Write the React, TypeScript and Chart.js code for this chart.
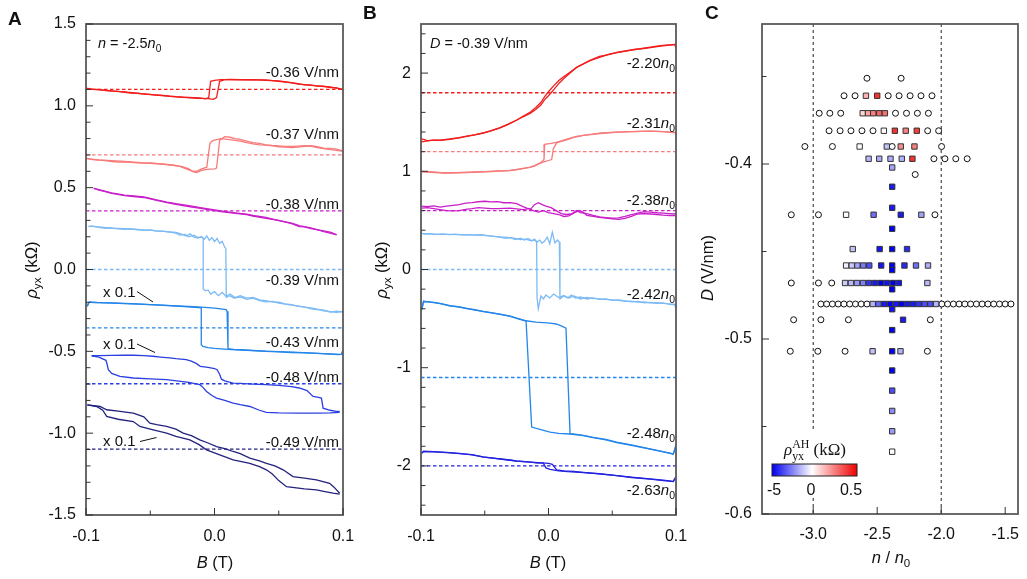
import { useEffect, useRef } from "react";
import { Chart, registerables } from "chart.js";
Chart.register(...registerables);

type P = [number, number];
type Seg = { t: string; it?: boolean; sub?: boolean; sup?: boolean; stack?: boolean; serif?: boolean; bold?: boolean };

const SANS = '"Liberation Sans", Arial, Helvetica, sans-serif';
const SERIF = '"Liberation Serif", "Times New Roman", serif';

const RED = "#f21d1d";
const LRED = "#f77b7b";
const MAG = "#c91fc9";
const LBLUE = "#7dbbf5";
const MBLUE = "#2486ea";
const BLUE = "#2b3fe0";
const BLUE2 = "#2323e0";
const NAVY = "#23237f";

// ---------------- Panel A : n = -2.5 n0 ----------------
const aXTicks = [-0.1, 0, 0.1];
const aYTicks = [-1.5, -1, -0.5, 0, 0.5, 1, 1.5];
const aLabels = ["-0.36 V/nm", "-0.37 V/nm", "-0.38 V/nm", "-0.39 V/nm", "-0.43 V/nm", "-0.48 V/nm", "-0.49 V/nm"];
const aBaselines = [1.1, 0.7, 0.358, 0.0, -0.357, -0.698, -1.098];
const aColors = [RED, LRED, MAG, LBLUE, MBLUE, BLUE, NAVY];

const A036Up: P[] = [[-0.1,1.108],[-0.095,1.102],[-0.09,1.1],[-0.085,1.095],[-0.08,1.092],[-0.075,1.088],[-0.07,1.083],[-0.065,1.078],[-0.06,1.076],[-0.055,1.073],[-0.05,1.07],[-0.045,1.066],[-0.04,1.062],[-0.035,1.058],[-0.03,1.055],[-0.025,1.052],[-0.02,1.05],[-0.015,1.048],[-0.01,1.046],[-0.005,1.044],[-0.001,1.04],[0.0016,1.05],[0.004,1.15],[0.008,1.16],[0.012,1.162],[0.02,1.16],[0.03,1.158],[0.04,1.158],[0.05,1.15],[0.06,1.14],[0.065,1.133],[0.07,1.13],[0.075,1.125],[0.08,1.122],[0.085,1.118],[0.09,1.115],[0.095,1.108],[0.1,1.1]];
const A036Dn: P[] = [[0.1,1.098],[0.095,1.11],[0.09,1.112],[0.085,1.12],[0.08,1.12],[0.075,1.128],[0.07,1.128],[0.065,1.136],[0.06,1.142],[0.05,1.152],[0.04,1.156],[0.03,1.16],[0.02,1.158],[0.012,1.16],[0.005,1.16],[0.0,1.155],[-0.003,1.15],[-0.0045,1.05],[-0.007,1.043],[-0.012,1.048],[-0.02,1.051],[-0.03,1.056],[-0.04,1.063],[-0.05,1.068],[-0.06,1.077],[-0.07,1.085],[-0.08,1.09],[-0.09,1.098],[-0.1,1.104]];
const A037Up: P[] = [[-0.1,0.68],[-0.095,0.672],[-0.09,0.668],[-0.085,0.665],[-0.08,0.66],[-0.075,0.656],[-0.07,0.658],[-0.065,0.655],[-0.06,0.652],[-0.055,0.65],[-0.05,0.652],[-0.045,0.648],[-0.04,0.645],[-0.035,0.64],[-0.03,0.635],[-0.025,0.628],[-0.02,0.615],[-0.017,0.598],[-0.014,0.592],[-0.01,0.605],[-0.006,0.612],[0.0,0.615],[0.0016,0.62],[0.004,0.79],[0.008,0.812],[0.012,0.808],[0.016,0.8],[0.02,0.795],[0.025,0.785],[0.03,0.775],[0.035,0.77],[0.04,0.762],[0.045,0.758],[0.05,0.755],[0.055,0.752],[0.06,0.752],[0.065,0.754],[0.07,0.756],[0.075,0.754],[0.08,0.745],[0.085,0.738],[0.09,0.732],[0.095,0.728],[0.1,0.722]];
const A037Dn: P[] = [[0.1,0.725],[0.095,0.735],[0.09,0.74],[0.085,0.742],[0.08,0.75],[0.075,0.756],[0.07,0.752],[0.065,0.748],[0.06,0.745],[0.055,0.748],[0.05,0.75],[0.045,0.755],[0.04,0.76],[0.035,0.762],[0.03,0.768],[0.025,0.775],[0.02,0.785],[0.015,0.79],[0.01,0.795],[0.005,0.8],[0.0,0.79],[-0.002,0.785],[-0.0036,0.77],[-0.006,0.625],[-0.01,0.615],[-0.014,0.6],[-0.018,0.603],[-0.022,0.615],[-0.027,0.63],[-0.032,0.637],[-0.04,0.642],[-0.05,0.648],[-0.06,0.655],[-0.07,0.66],[-0.08,0.665],[-0.09,0.67],[-0.1,0.678]];
const A038Up: P[] = [[-0.094,0.497],[-0.09,0.485],[-0.085,0.476],[-0.08,0.465],[-0.07,0.452],[-0.063,0.446],[-0.055,0.44],[-0.05,0.432],[-0.045,0.422],[-0.037,0.408],[-0.03,0.398],[-0.02,0.385],[-0.011,0.374],[0.0,0.36],[0.005,0.354],[0.0145,0.344],[0.025,0.335],[0.03,0.326],[0.04,0.313],[0.05,0.3],[0.06,0.28],[0.066,0.262],[0.07,0.26],[0.075,0.25],[0.08,0.244],[0.085,0.232],[0.09,0.222],[0.095,0.211]];
const A038Dn: P[] = [[0.095,0.213],[0.09,0.228],[0.085,0.236],[0.08,0.242],[0.075,0.255],[0.07,0.262],[0.066,0.268],[0.06,0.284],[0.05,0.298],[0.04,0.318],[0.03,0.33],[0.025,0.338],[0.0145,0.348],[0.005,0.358],[0.0,0.364],[-0.011,0.378],[-0.02,0.39],[-0.03,0.402],[-0.037,0.412],[-0.045,0.426],[-0.05,0.435],[-0.055,0.444],[-0.063,0.45],[-0.07,0.455],[-0.08,0.468],[-0.09,0.488],[-0.094,0.495]];
const A039Up: P[] = [[-0.098,0.262],[-0.095,0.265],[-0.09,0.258],[-0.085,0.252],[-0.08,0.254],[-0.075,0.248],[-0.07,0.246],[-0.065,0.249],[-0.06,0.243],[-0.055,0.24],[-0.05,0.242],[-0.045,0.236],[-0.04,0.233],[-0.035,0.23],[-0.03,0.226],[-0.025,0.215],[-0.022,0.205],[-0.019,0.218],[-0.016,0.198],[-0.013,0.192],[-0.01,0.2],[-0.008,0.185],[-0.006,0.205],[-0.004,0.178],[-0.002,0.195],[0.0,0.17],[0.002,0.19],[0.004,0.16],[0.006,0.172],[0.008,0.135],[0.0088,0.13],[0.0092,-0.17],[0.012,-0.16],[0.015,-0.175],[0.02,-0.168],[0.025,-0.182],[0.03,-0.175],[0.035,-0.19],[0.04,-0.198],[0.045,-0.195],[0.05,-0.205],[0.055,-0.212],[0.06,-0.218],[0.065,-0.222],[0.07,-0.23],[0.075,-0.235],[0.08,-0.242],[0.085,-0.252],[0.09,-0.258],[0.095,-0.262],[0.1,-0.255]];
const A039Dn: P[] = [[0.1,-0.26],[0.095,-0.255],[0.09,-0.26],[0.085,-0.248],[0.08,-0.245],[0.075,-0.24],[0.07,-0.228],[0.065,-0.225],[0.06,-0.215],[0.055,-0.21],[0.05,-0.2],[0.045,-0.198],[0.04,-0.19],[0.035,-0.185],[0.03,-0.17],[0.025,-0.175],[0.02,-0.16],[0.016,-0.172],[0.012,-0.15],[0.009,-0.165],[0.006,-0.14],[0.003,-0.16],[0.0,-0.135],[-0.003,-0.15],[-0.005,-0.125],[-0.007,-0.13],[-0.0085,-0.12],[-0.0088,0.19],[-0.01,0.2],[-0.013,0.195],[-0.016,0.21],[-0.02,0.2],[-0.023,0.215],[-0.027,0.21],[-0.03,0.222],[-0.035,0.228],[-0.04,0.234],[-0.045,0.235],[-0.05,0.24],[-0.055,0.242],[-0.06,0.245],[-0.065,0.247],[-0.07,0.25],[-0.08,0.252],[-0.09,0.26],[-0.098,0.265]];
const A043Up: P[] = [[-0.099,-0.225],[-0.098,-0.205],[-0.097,-0.2],[-0.09,-0.202],[-0.08,-0.204],[-0.07,-0.207],[-0.06,-0.21],[-0.05,-0.214],[-0.04,-0.218],[-0.03,-0.222],[-0.02,-0.226],[-0.01,-0.23],[0.0,-0.236],[0.005,-0.24],[0.009,-0.245],[0.0098,-0.255],[0.0105,-0.484],[0.015,-0.488],[0.02,-0.49],[0.03,-0.495],[0.04,-0.5],[0.05,-0.503],[0.06,-0.507],[0.07,-0.51],[0.08,-0.513],[0.09,-0.517],[0.096,-0.52],[0.099,-0.518],[0.1,-0.49]];
const A043Dn: P[] = [[0.1,-0.49],[0.099,-0.518],[0.09,-0.515],[0.08,-0.512],[0.07,-0.508],[0.06,-0.505],[0.05,-0.502],[0.04,-0.499],[0.03,-0.496],[0.02,-0.492],[0.01,-0.488],[0.0,-0.482],[-0.005,-0.478],[-0.009,-0.47],[-0.0101,-0.46],[-0.0103,-0.235],[-0.015,-0.232],[-0.02,-0.228],[-0.03,-0.223],[-0.04,-0.219],[-0.05,-0.215],[-0.06,-0.211],[-0.07,-0.208],[-0.08,-0.205],[-0.09,-0.203],[-0.097,-0.2],[-0.098,-0.205],[-0.099,-0.225]];
const A048Up: P[] = [[-0.0956,-0.527],[-0.09,-0.526],[-0.08,-0.525],[-0.07,-0.524],[-0.063,-0.524],[-0.055,-0.526],[-0.048,-0.53],[-0.042,-0.535],[-0.035,-0.54],[-0.03,-0.545],[-0.022,-0.551],[-0.018,-0.56],[-0.014,-0.575],[-0.011,-0.592],[-0.005,-0.598],[0.0,-0.605],[0.002,-0.612],[0.004,-0.64],[0.0054,-0.67],[0.008,-0.68],[0.0145,-0.694],[0.02,-0.696],[0.03,-0.7],[0.04,-0.704],[0.05,-0.708],[0.06,-0.715],[0.066,-0.724],[0.072,-0.74],[0.0767,-0.776],[0.08,-0.78],[0.0832,-0.786],[0.0845,-0.847],[0.09,-0.86],[0.0948,-0.867],[0.0974,-0.867]];
const A048Dn: P[] = [[0.0974,-0.873],[0.09,-0.876],[0.08,-0.878],[0.066,-0.878],[0.05,-0.876],[0.0404,-0.873],[0.035,-0.86],[0.0275,-0.837],[0.02,-0.826],[0.0145,-0.816],[0.008,-0.8],[0.0016,-0.786],[-0.002,-0.77],[-0.0062,-0.745],[-0.009,-0.72],[-0.0114,-0.704],[-0.02,-0.69],[-0.0373,-0.673],[-0.05,-0.668],[-0.0632,-0.663],[-0.0736,-0.653],[-0.08,-0.635],[-0.0826,-0.612],[-0.0839,-0.57],[-0.0845,-0.555],[-0.09,-0.535],[-0.0956,-0.527]];
const A049Up: P[] = [[-0.099,-0.827],[-0.0891,-0.837],[-0.0839,-0.857],[-0.075,-0.865],[-0.0632,-0.878],[-0.055,-0.9],[-0.0503,-0.939],[-0.045,-0.948],[-0.0373,-0.959],[-0.03,-0.975],[-0.0244,-1.0],[-0.018,-1.015],[-0.0114,-1.041],[-0.005,-1.06],[0.0016,-1.082],[0.008,-1.095],[0.0145,-1.112],[0.02,-1.125],[0.0275,-1.153],[0.035,-1.17],[0.0404,-1.184],[0.047,-1.2],[0.0534,-1.224],[0.0611,-1.265],[0.07,-1.275],[0.0793,-1.286],[0.0896,-1.306],[0.093,-1.33],[0.0974,-1.367]];
const A049Dn: P[] = [[0.0974,-1.372],[0.0922,-1.367],[0.085,-1.355],[0.0793,-1.347],[0.07,-1.34],[0.056,-1.327],[0.05,-1.29],[0.045,-1.25],[0.0404,-1.224],[0.035,-1.205],[0.0275,-1.184],[0.0145,-1.163],[0.0041,-1.133],[-0.0062,-1.102],[-0.012,-1.07],[-0.0192,-1.041],[-0.03,-1.02],[-0.0373,-1.0],[-0.05,-0.975],[-0.058,-0.959],[-0.0632,-0.929],[-0.075,-0.915],[-0.0839,-0.898],[-0.087,-0.86],[-0.0917,-0.837],[-0.099,-0.827]];
const aTraces: P[][][] = [[A036Up, A036Dn], [A037Up, A037Dn], [A038Up, A038Dn], [A039Up, A039Dn], [A043Up, A043Dn], [A048Up, A048Dn], [A049Up, A049Dn]];

// ---------------- Panel B : D = -0.39 V/nm ----------------
const bXTicks = [-0.1, 0, 0.1];
const bYTicks = [-2, -1, 0, 1, 2];
const bLabels = ["-2.20", "-2.31", "-2.38", "-2.42", "-2.48", "-2.63"];
const bBaselines = [1.8, 1.2, 0.6, 0.0, -1.1, -2.0];
const bColors = [RED, LRED, MAG, LBLUE, MBLUE, BLUE2];

const B220Up: P[] = [[-0.0995,1.31],[-0.099,1.3],[-0.095,1.31],[-0.09,1.318],[-0.085,1.317],[-0.0773,1.33],[-0.07,1.342],[-0.0642,1.358],[-0.058,1.372],[-0.0511,1.392],[-0.045,1.415],[-0.038,1.444],[-0.032,1.478],[-0.025,1.522],[-0.02,1.56],[-0.0145,1.6],[-0.01,1.65],[-0.006,1.7],[-0.003,1.76],[0.0,1.81],[0.004,1.87],[0.0085,1.93],[0.0116,1.96],[0.016,2.0],[0.0221,2.058],[0.0325,2.126],[0.04,2.16],[0.0482,2.195],[0.055,2.21],[0.0613,2.229],[0.068,2.24],[0.0744,2.253],[0.08,2.265],[0.0875,2.28],[0.094,2.288],[0.0992,2.29],[0.1,2.245]];
const B220Dn: P[] = [[0.1,2.295],[0.095,2.285],[0.088,2.275],[0.08,2.26],[0.0744,2.25],[0.068,2.245],[0.0613,2.225],[0.055,2.215],[0.0482,2.19],[0.04,2.17],[0.0325,2.13],[0.0221,2.06],[0.016,1.99],[0.0116,1.94],[0.0085,1.9],[0.004,1.83],[0.0,1.77],[-0.003,1.73],[-0.006,1.675],[-0.01,1.63],[-0.0145,1.59],[-0.02,1.555],[-0.025,1.52],[-0.032,1.475],[-0.038,1.442],[-0.045,1.412],[-0.0511,1.39],[-0.058,1.37],[-0.0642,1.355],[-0.07,1.34],[-0.0773,1.325],[-0.085,1.315],[-0.09,1.317],[-0.095,1.312],[-0.0995,1.33],[-0.1,1.345]];
const B231Up: P[] = [[-0.0995,1.0],[-0.09,0.995],[-0.0825,0.985],[-0.075,0.985],[-0.0642,0.99],[-0.055,0.995],[-0.045,1.0],[-0.038,1.005],[-0.03,1.01],[-0.025,1.017],[-0.02,1.03],[-0.0145,1.04],[-0.0106,1.055],[-0.0067,1.08],[-0.003,1.098],[0.0,1.11],[0.0025,1.12],[0.0038,1.23],[0.0064,1.29],[0.01,1.305],[0.0142,1.32],[0.02,1.345],[0.0273,1.365],[0.035,1.375],[0.0404,1.385],[0.05,1.395],[0.0535,1.399],[0.065,1.405],[0.0796,1.41],[0.09,1.405],[0.1,1.392]];
const B231Dn: P[] = [[0.1,1.395],[0.09,1.405],[0.08,1.41],[0.065,1.405],[0.05,1.397],[0.04,1.388],[0.03,1.372],[0.0221,1.355],[0.015,1.33],[0.01,1.31],[0.006,1.295],[0.002,1.285],[-0.003,1.275],[-0.0035,1.12],[-0.006,1.09],[-0.0106,1.06],[-0.0145,1.042],[-0.02,1.028],[-0.03,1.008],[-0.045,0.998],[-0.0642,0.988],[-0.0825,0.982],[-0.0995,0.995]];
const B238a: P[] = [[-0.0995,0.645],[-0.095,0.64],[-0.09,0.648],[-0.085,0.635],[-0.08,0.645],[-0.075,0.652],[-0.07,0.66],[-0.065,0.675],[-0.06,0.68],[-0.055,0.69],[-0.05,0.695],[-0.045,0.688],[-0.04,0.692],[-0.035,0.68],[-0.03,0.682],[-0.025,0.67],[-0.02,0.64],[-0.017,0.625],[-0.014,0.615],[-0.011,0.66],[-0.008,0.68],[-0.005,0.66],[-0.002,0.645],[0.002,0.63],[0.006,0.6],[0.01,0.57],[0.014,0.56],[0.018,0.565],[0.022,0.6],[0.025,0.58],[0.03,0.57],[0.035,0.55],[0.04,0.535],[0.045,0.528],[0.05,0.522],[0.055,0.525],[0.06,0.54],[0.065,0.56],[0.07,0.575],[0.075,0.59],[0.08,0.585],[0.085,0.578],[0.09,0.575],[0.095,0.57],[0.1,0.565]];
const B238b: P[] = [[-0.0995,0.625],[-0.095,0.63],[-0.09,0.62],[-0.085,0.61],[-0.08,0.6],[-0.075,0.598],[-0.07,0.6],[-0.065,0.612],[-0.06,0.62],[-0.055,0.63],[-0.05,0.625],[-0.045,0.62],[-0.04,0.62],[-0.035,0.622],[-0.03,0.625],[-0.025,0.618],[-0.02,0.61],[-0.015,0.62],[-0.012,0.6],[-0.008,0.585],[-0.004,0.6],[0.0,0.58],[0.004,0.57],[0.008,0.56],[0.012,0.54],[0.016,0.545],[0.02,0.575],[0.024,0.6],[0.027,0.585],[0.03,0.55],[0.035,0.54],[0.04,0.53],[0.05,0.515],[0.055,0.51],[0.06,0.52],[0.065,0.54],[0.07,0.565],[0.075,0.57],[0.08,0.565],[0.085,0.56],[0.09,0.553],[0.095,0.55],[0.1,0.548]];
const B242Up: P[] = [[-0.0995,0.37],[-0.097,0.36],[-0.093,0.365],[-0.088,0.358],[-0.083,0.362],[-0.078,0.355],[-0.073,0.36],[-0.068,0.352],[-0.063,0.356],[-0.058,0.35],[-0.053,0.354],[-0.048,0.345],[-0.043,0.338],[-0.038,0.33],[-0.034,0.318],[-0.03,0.325],[-0.026,0.305],[-0.022,0.318],[-0.019,0.3],[-0.016,0.315],[-0.013,0.29],[-0.011,0.31],[-0.009,0.28],[-0.007,0.3],[-0.005,0.27],[-0.003,0.29],[-0.001,0.33],[0.001,0.26],[0.003,0.38],[0.005,0.27],[0.007,0.3],[0.0085,0.28],[0.009,-0.3],[0.012,-0.27],[0.015,-0.29],[0.018,-0.26],[0.021,-0.29],[0.025,-0.28],[0.03,-0.3],[0.035,-0.29],[0.04,-0.305],[0.045,-0.3],[0.05,-0.315],[0.055,-0.31],[0.06,-0.32],[0.065,-0.33],[0.07,-0.325],[0.075,-0.34],[0.08,-0.335],[0.085,-0.345],[0.09,-0.34],[0.095,-0.355],[0.1,-0.36]];
const B242Dn: P[] = [[0.1,-0.4],[0.099,-0.355],[0.095,-0.35],[0.09,-0.345],[0.085,-0.338],[0.08,-0.34],[0.075,-0.33],[0.07,-0.332],[0.065,-0.322],[0.06,-0.325],[0.055,-0.315],[0.05,-0.31],[0.045,-0.305],[0.04,-0.3],[0.035,-0.295],[0.03,-0.285],[0.025,-0.3],[0.02,-0.27],[0.016,-0.29],[0.012,-0.265],[0.008,-0.285],[0.004,-0.25],[0.001,-0.29],[-0.002,-0.26],[-0.004,-0.3],[-0.006,-0.27],[-0.008,-0.4],[-0.009,-0.28],[-0.0093,0.28],[-0.011,0.3],[-0.014,0.295],[-0.018,0.31],[-0.022,0.305],[-0.027,0.32],[-0.032,0.328],[-0.038,0.332],[-0.045,0.34],[-0.052,0.35],[-0.06,0.352],[-0.07,0.356],[-0.08,0.358],[-0.09,0.36],[-0.0995,0.365]];
const B248Up: P[] = [[-0.0995,-0.41],[-0.098,-0.324],[-0.095,-0.328],[-0.09,-0.335],[-0.085,-0.345],[-0.0773,-0.369],[-0.07,-0.38],[-0.0642,-0.395],[-0.058,-0.41],[-0.0511,-0.427],[-0.045,-0.44],[-0.038,-0.455],[-0.03,-0.475],[-0.025,-0.495],[-0.0176,-0.522],[-0.01,-0.535],[-0.0041,-0.54],[0.0012,-0.546],[0.006,-0.555],[0.01,-0.575],[0.0137,-0.597],[0.0169,-1.672],[0.0221,-1.68],[0.0273,-1.689],[0.035,-1.71],[0.045,-1.73],[0.0535,-1.758],[0.065,-1.785],[0.0796,-1.826],[0.09,-1.855],[0.0979,-1.877],[0.1,-1.79]];
const B248Dn: P[] = [[0.1,-1.79],[0.0979,-1.88],[0.09,-1.858],[0.0796,-1.83],[0.065,-1.79],[0.0535,-1.762],[0.045,-1.735],[0.035,-1.712],[0.0273,-1.692],[0.0169,-1.675],[0.008,-1.668],[0.0012,-1.655],[-0.006,-1.63],[-0.0132,-1.604],[-0.0176,-0.525],[-0.025,-0.497],[-0.03,-0.478],[-0.038,-0.457],[-0.045,-0.442],[-0.0511,-0.43],[-0.058,-0.412],[-0.0642,-0.398],[-0.07,-0.382],[-0.0773,-0.37],[-0.085,-0.347],[-0.09,-0.337],[-0.095,-0.33],[-0.098,-0.326],[-0.0995,-0.41]];
const B263Up: P[] = [[-0.0995,-1.87],[-0.098,-1.855],[-0.09,-1.858],[-0.08,-1.865],[-0.0773,-1.868],[-0.07,-1.875],[-0.06,-1.885],[-0.0511,-1.911],[-0.04,-1.925],[-0.03,-1.94],[-0.025,-1.952],[-0.015,-1.96],[-0.0093,-1.969],[-0.005,-1.97],[0.0,-1.975],[0.003,-1.985],[0.0064,-2.04],[0.012,-2.05],[0.02,-2.055],[0.0273,-2.065],[0.04,-2.08],[0.0535,-2.099],[0.065,-2.115],[0.0796,-2.133],[0.09,-2.145],[0.0979,-2.157],[0.1,-2.11]];
const B263Dn: P[] = [[0.1,-2.11],[0.0979,-2.16],[0.09,-2.15],[0.0796,-2.135],[0.065,-2.118],[0.0535,-2.1],[0.04,-2.082],[0.0273,-2.068],[0.015,-2.058],[0.008,-2.05],[0.0012,-2.035],[-0.002,-2.02],[-0.0041,-1.972],[-0.008,-1.968],[-0.015,-1.962],[-0.025,-1.95],[-0.035,-1.935],[-0.0511,-1.908],[-0.06,-1.888],[-0.07,-1.872],[-0.08,-1.862],[-0.09,-1.855],[-0.098,-1.85],[-0.0995,-1.87]];
const bTraces: P[][][] = [[B220Up, B220Dn], [B231Up, B231Dn], [B238a, B238b], [B242Up, B242Dn], [B248Up, B248Dn], [B263Up, B263Dn]];

// ---------------- Panel C : phase diagram ----------------
const cXTicks = [-3.0, -2.5, -2.0, -1.5];
const cYTicks = [-0.6, -0.5, -0.4];
const cBoundaries = [-3.0, -2.0];
const cCircN = [-2.58,-2.313, -2.759,-2.673,-2.414,-2.329,-2.243,-2.158,-2.072, -2.953,-2.87,-2.785,-2.357,-2.271,-2.186,-2.1, -2.876,-2.79,-2.705,-2.619,-2.533,-2.106,-2.02, -3.065,-2.85,-2.383,-1.997, -2.057,-1.971,-1.886,-1.797, -2.203, -3.171,-2.959,-2.049, -3.171,-2.959,-2.855, -2.94,-2.895,-2.85,-2.805,-2.76,-2.715,-2.67,-2.625,-2.58, -1.995,-1.95,-1.905,-1.86,-1.815,-1.77,-1.725,-1.68,-1.635,-1.59,-1.545,-1.5,-1.455, -3.153,-2.94,-2.725,-2.085, -3.179,-2.964,-2.751,-2.108];
const cCircD = [-0.351,-0.351, -0.361,-0.361,-0.361,-0.361,-0.361,-0.361,-0.361, -0.371,-0.371,-0.371,-0.371,-0.371,-0.371,-0.371, -0.381,-0.381,-0.381,-0.381,-0.381,-0.381,-0.381, -0.39,-0.39,-0.39,-0.39, -0.397,-0.397,-0.397,-0.397, -0.406, -0.429,-0.429,-0.429, -0.468,-0.468,-0.468, -0.48,-0.48,-0.48,-0.48,-0.48,-0.48,-0.48,-0.48,-0.48, -0.48,-0.48,-0.48,-0.48,-0.48,-0.48,-0.48,-0.48,-0.48,-0.48,-0.48,-0.48,-0.48, -0.489,-0.489,-0.489,-0.489, -0.507,-0.507,-0.507,-0.507];
const cSqN = [-2.588,-2.5, -2.613,-2.572,-2.531,-2.484,-2.44, -2.448,-2.362,-2.277,-2.191, -2.637,-2.425,-2.316,-2.209, -2.567,-2.484,-2.396,-2.308,-2.225, -2.383,-2.383,-2.383, -2.743,-2.528,-2.316,-2.155, -2.383, -2.691,-2.481,-2.383,-2.267, -2.743,-2.699,-2.655,-2.609,-2.562,-2.469,-2.383,-2.287,-2.197,-2.103, -2.383, -2.751,-2.705,-2.658,-2.611,-2.565,-2.518,-2.471,-2.425,-2.378,-2.331,-2.108, -2.383, -2.535,-2.49,-2.445,-2.4,-2.355,-2.31,-2.265,-2.22,-2.175,-2.13,-2.085,-2.04, -2.383, -2.298, -2.383, -2.536,-2.383,-2.318, -2.383,-2.383,-2.383,-2.383,-2.383];
const cSqD = [-0.361,-0.361, -0.371,-0.371,-0.371,-0.371,-0.371, -0.381,-0.381,-0.381,-0.381, -0.39,-0.39,-0.39,-0.39, -0.397,-0.397,-0.397,-0.397,-0.397, -0.402,-0.413,-0.425, -0.429,-0.429,-0.429,-0.429, -0.437, -0.4486,-0.4486,-0.4486,-0.4486, -0.458,-0.458,-0.458,-0.458,-0.458,-0.458,-0.458,-0.458,-0.458,-0.458, -0.4606, -0.468,-0.468,-0.468,-0.468,-0.468,-0.468,-0.468,-0.468,-0.468,-0.468,-0.468, -0.4716, -0.48,-0.48,-0.48,-0.48,-0.48,-0.48,-0.48,-0.48,-0.48,-0.48,-0.48,-0.48, -0.483, -0.489, -0.4949, -0.507,-0.507,-0.507, -0.518,-0.5295,-0.5411,-0.5527,-0.5644];
const cSqV = [0.15,0.4, 0.08,0.18,0.25,0.3,0.28, 0.0,0.4,0.25,0.38, 0.0,-1.2,0.22,0.25, -1.4,-1.6,-1.6,-1.5,0.4, -1.8,-4.5,-4.5, 0.0,-2.8,-4.5,-1.8, -5, -1.2,-4.6,-5,-4.2, -0.3,-1.0,-1.8,-2.6,-3.5,-4.6,-5,-4.2,-2.8,-1.6, -5, -1.0,-1.4,-2.0,-2.5,-4.0,-4.5,-5,-4.6,-5,-4.6,-1.4, -5, -1.5,-3,-4.5,-5,-4.5,-5,-4.5,-4.5,-4,-3.5,-3.5,-1.5, -4.6, -4.5, -5, -1.2,-5,-1.5, -5,-3.5,-2.3,-2.0,0.0];
const cBarTicks = ["-5", "0", "0.5"];

// ---------------- helpers ----------------
function cmap(v: number): string {
  if (v < 0) {
    const t = Math.min(1, -v / 5);
    return `rgb(${Math.round(255 * (1 - t))},${Math.round(255 * (1 - t))},${Math.round(255 - 15 * t)})`;
  }
  const t = Math.min(1, v / 0.5);
  return `rgb(${Math.round(255 - 15 * t)},${Math.round(255 * (1 - t))},${Math.round(255 * (1 - t))})`;
}

function segFont(s: Seg, size: number) {
  const sz = s.sub || s.sup ? size * 0.7 : size;
  return `${s.it ? "italic " : ""}${s.bold ? "bold " : ""}${sz}px ${s.serif ? SERIF : SANS}`;
}

function drawRich(ctx: CanvasRenderingContext2D, segs: Seg[], x: number, y: number, size: number, align: "left" | "right" | "center", rot = 0, color = "#111") {
  ctx.save();
  ctx.translate(x, y);
  if (rot) ctx.rotate(rot);
  let cx = 0, prevStart = 0, prevEnd = 0;
  const items: { s: Seg; x: number; dy: number; font: string }[] = [];
  for (const s of segs) {
    ctx.font = segFont(s, size);
    const w = ctx.measureText(s.t).width;
    const sx = s.stack ? prevStart : cx;
    const dy = s.sub ? size * 0.27 : s.sup ? -size * 0.42 : 0;
    items.push({ s, x: sx, dy, font: ctx.font });
    if (s.stack) cx = Math.max(prevEnd, sx + w);
    else { prevStart = sx; prevEnd = sx + w; cx = sx + w; }
  }
  const x0 = align === "left" ? 0 : align === "right" ? -cx : -cx / 2;
  ctx.fillStyle = color;
  ctx.textBaseline = "alphabetic";
  ctx.textAlign = "left";
  for (const it of items) {
    ctx.font = it.font;
    ctx.fillText(it.s.t, x0 + it.x, it.dy);
  }
  ctx.restore();
}

function line(ctx: CanvasRenderingContext2D, x1: number, y1: number, x2: number, y2: number) {
  ctx.beginPath();
  ctx.moveTo(x1, y1);
  ctx.lineTo(x2, y2);
  ctx.stroke();
}

function frameAndTicks(chart: any, yMajor: number[], yMinor: number[], xMajor: number[], xMinor: number[]) {
  const { ctx, chartArea: a, scales } = chart;
  ctx.save();
  ctx.strokeStyle = "#5a5a5a";
  ctx.lineWidth = 1.8;
  ctx.strokeRect(a.left, a.top, a.right - a.left, a.bottom - a.top);
  ctx.lineWidth = 1;
  ctx.strokeStyle = "#333";
  for (const v of yMajor) { const y = scales.y.getPixelForValue(v); line(ctx, a.left, y, a.left + 7, y); }
  for (const v of yMinor) { const y = scales.y.getPixelForValue(v); line(ctx, a.left, y, a.left + 4.5, y); }
  for (const v of xMajor) { const x = scales.x.getPixelForValue(v); line(ctx, x, a.bottom, x, a.bottom - 7); }
  for (const v of xMinor) { const x = scales.x.getPixelForValue(v); line(ctx, x, a.bottom, x, a.bottom - 4.5); }
  ctx.restore();
}

function range(a: number, b: number, step: number, skip: number) {
  const out: number[] = [];
  for (let i = 0; a + i * step <= b + 1e-9; i++) {
    const v = +(a + i * step).toFixed(4);
    if (Math.abs(v / skip - Math.round(v / skip)) > 1e-6) out.push(v);
  }
  return out;
}

function traceDatasets(traces: P[][][], colors: string[], baselines: number[]) {
  const ds: any[] = [];
  traces.forEach((pair, i) => {
    pair.forEach((tr) => {
      ds.push({ data: tr.map(([x, y]) => ({ x, y })), borderColor: colors[i], borderWidth: 1.3, showLine: true, pointRadius: 0, tension: 0, fill: false });
    });
  });
  baselines.forEach((b, i) => {
    ds.push({ data: [{ x: -0.1, y: b }, { x: 0.1, y: b }], borderColor: colors[i], borderWidth: 1.3, borderDash: [3.5, 2.5], showLine: true, pointRadius: 0 });
  });
  return ds;
}

function axisOpts(min: number, max: number, ticksArr: number[], fmt: (v: number) => string, isY: boolean, size: number, pad: number) {
  return {
    type: "linear" as const,
    min,
    max,
    afterBuildTicks: (s: any) => { s.ticks = ticksArr.map((v) => ({ value: v })); },
    afterFit: (s: any) => {
      if (isY) { s.width = size; s.paddingTop = 0; s.paddingBottom = 0; }
      else { s.height = size; s.paddingLeft = 0; s.paddingRight = 0; }
    },
    grid: { display: false, drawTicks: false },
    border: { display: false },
    ticks: { callback: (v: any) => fmt(Number(v)), font: { size: 16, family: SANS }, color: "#111", padding: pad, maxRotation: 0, autoSkip: false },
  };
}

const baseOpts = {
  responsive: false,
  maintainAspectRatio: false,
  animation: false as const,
  events: [] as any[],
  plugins: { legend: { display: false }, tooltip: { enabled: false } },
};

function cfgA(): any {
  return {
    type: "scatter",
    data: { datasets: traceDatasets(aTraces, aColors, aBaselines) },
    options: {
      ...baseOpts,
      layout: { padding: { top: 24, right: 22, left: 0, bottom: 0 } },
      scales: {
        x: axisOpts(-0.1, 0.1, aXTicks, (v) => v.toFixed(1), false, 64, 12),
        y: axisOpts(-1.5, 1.5, aYTicks, (v) => v.toFixed(1), true, 86, 10),
      },
    },
    plugins: [{
      id: "decoA",
      afterDraw(chart: any) {
        const ctx = chart.ctx;
        frameAndTicks(chart, aYTicks, range(-1.5, 1.5, 0.1, 0.5), aXTicks, [-0.05, 0.05]);
        drawRich(ctx, [{ t: "A", bold: true }], 8, 25, 19, "left");
        drawRich(ctx, [{ t: "n", it: true }, { t: " = -2.5" }, { t: "n", it: true }, { t: "0", sub: true }], 98, 48, 14.5, "left");
        const ys = [77, 139, 209, 285, 346.5, 382, 447];
        aLabels.forEach((l, i) => drawRich(ctx, [{ t: l }], 339, ys[i], 15, "right"));
        const xs = [296.5, 349, 445.5];
        xs.forEach((y) => drawRich(ctx, [{ t: "x 0.1" }], 103, y, 15, "left"));
        ctx.save();
        ctx.strokeStyle = "#111";
        ctx.lineWidth = 1;
        line(ctx, 137, 291.5, 153, 302);
        line(ctx, 137, 344, 155, 352.5);
        line(ctx, 140, 441.5, 156.5, 437.5);
        ctx.restore();
        drawRich(ctx, [{ t: "ρ", it: true }, { t: "yx", sub: true }, { t: " (kΩ)" }], 37, 270, 16.5, "center", -Math.PI / 2);
        drawRich(ctx, [{ t: "B", it: true }, { t: " (T)" }], 215, 568, 16.5, "center");
      },
    }],
  };
}

function cfgB(): any {
  return {
    type: "scatter",
    data: { datasets: traceDatasets(bTraces, bColors, bBaselines) },
    options: {
      ...baseOpts,
      layout: { padding: { top: 24, right: 34, left: 0, bottom: 0 } },
      scales: {
        x: axisOpts(-0.1, 0.1, bXTicks, (v) => v.toFixed(1), false, 64, 12),
        y: axisOpts(-2.5, 2.5, bYTicks, (v) => v.toFixed(0), true, 71, 10),
      },
    },
    plugins: [{
      id: "decoB",
      afterDraw(chart: any) {
        const ctx = chart.ctx;
        frameAndTicks(chart, bYTicks, range(-2.4, 2.4, 0.2, 1), bXTicks, [-0.05, 0.05]);
        drawRich(ctx, [{ t: "B", bold: true }], 13, 18.5, 19, "left");
        drawRich(ctx, [{ t: "D", it: true }, { t: " = -0.39 V/nm" }], 80, 47.5, 14.5, "left");
        const ys = [68, 128, 205, 299, 438, 495];
        bLabels.forEach((l, i) => drawRich(ctx, [{ t: l }, { t: "n", it: true }, { t: "0", sub: true }], 325, ys[i], 15, "right"));
        drawRich(ctx, [{ t: "ρ", it: true }, { t: "yx", sub: true }, { t: " (kΩ)" }], 37, 270, 16.5, "center", -Math.PI / 2);
        drawRich(ctx, [{ t: "B", it: true }, { t: " (T)" }], 198, 568, 16.5, "center");
      },
    }],
  };
}

function cfgC(): any {
  const circles = cCircN.map((n, i) => ({ x: n, y: cCircD[i] }));
  const squares = cSqN.map((n, i) => ({ x: n, y: cSqD[i] }));
  return {
    type: "scatter",
    data: {
      datasets: [
        { data: squares, pointStyle: "rect", pointRadius: 3.8, backgroundColor: cSqV.map(cmap), borderColor: "#333", borderWidth: 1 },
        { data: circles, pointStyle: "circle", pointRadius: 3.0, backgroundColor: "#fff", borderColor: "#111", borderWidth: 1 },
      ],
    },
    options: {
      ...baseOpts,
      layout: { padding: { top: 24, right: 9, left: 0, bottom: 0 } },
      scales: {
        x: axisOpts(-3.4, -1.4, cXTicks, (v) => v.toFixed(1), false, 65, 11),
        y: axisOpts(-0.6, -0.32, cYTicks, (v) => v.toFixed(1), true, 72, 10),
      },
    },
    plugins: [{
      id: "decoC",
      beforeDatasetsDraw(chart: any) {
        const { ctx, chartArea: a, scales } = chart;
        ctx.save();
        ctx.strokeStyle = "#222";
        ctx.lineWidth = 1;
        ctx.setLineDash([3, 3]);
        for (const b of cBoundaries) { const x = scales.x.getPixelForValue(b); line(ctx, x, a.top, x, a.bottom); }
        ctx.setLineDash([]);
        ctx.fillStyle = "#fff";
        ctx.fillRect(75, 431, 101, 67);
        ctx.restore();
      },
      afterDraw(chart: any) {
        const ctx = chart.ctx;
        frameAndTicks(chart, cYTicks, [-0.55, -0.45, -0.35], cXTicks, []);
        drawRich(ctx, [{ t: "C", bold: true }], 15, 18.5, 19, "left");
        const bx = 82, by = 464, bw = 85, bh = 12;
        const g = ctx.createLinearGradient(bx, 0, bx + bw, 0);
        g.addColorStop(0, "rgb(0,0,240)");
        g.addColorStop(0.47, "rgb(255,255,255)");
        g.addColorStop(1, "rgb(240,0,0)");
        ctx.save();
        ctx.fillStyle = g;
        ctx.fillRect(bx, by, bw, bh);
        ctx.strokeStyle = "#222";
        ctx.lineWidth = 1;
        ctx.strokeRect(bx, by, bw, bh);
        ctx.restore();
        const tx = [84, 121, 161];
        cBarTicks.forEach((t, i) => drawRich(ctx, [{ t }], tx[i], 495, 16, "center"));
        drawRich(ctx, [{ t: "ρ", it: true, serif: true }, { t: "yx", sub: true, serif: true }, { t: "AH", sup: true, stack: true, serif: true }, { t: " (kΩ)", serif: true }], 125, 455, 17, "center");
        drawRich(ctx, [{ t: "D", it: true }, { t: " (V/nm)" }], 23, 268, 16.5, "center", -Math.PI / 2);
        drawRich(ctx, [{ t: "n", it: true }, { t: " / " }, { t: "n", it: true }, { t: "0", sub: true }], 201, 563, 16.5, "center");
      },
    }],
  };
}

export default function App() {
  const aRef = useRef<HTMLCanvasElement>(null);
  const bRef = useRef<HTMLCanvasElement>(null);
  const cRef = useRef<HTMLCanvasElement>(null);
  useEffect(() => {
    Chart.defaults.font.family = SANS;
    const charts = [new Chart(aRef.current!, cfgA()), new Chart(bRef.current!, cfgB()), new Chart(cRef.current!, cfgC())];
    return () => charts.forEach((c) => c.destroy());
  }, []);
  const st = (left: number, width: number): React.CSSProperties => ({ position: "absolute", left, top: 0, width, height: 579 });
  return (
    <div style={{ position: "fixed", left: 0, top: 0, width: 1027, height: 579, background: "#fff", overflow: "hidden" }}>
      <canvas ref={aRef} width={365} height={579} style={st(0, 365)} />
      <canvas ref={bRef} width={360} height={579} style={st(350, 360)} />
      <canvas ref={cRef} width={337} height={579} style={st(690, 337)} />
    </div>
  );
}
